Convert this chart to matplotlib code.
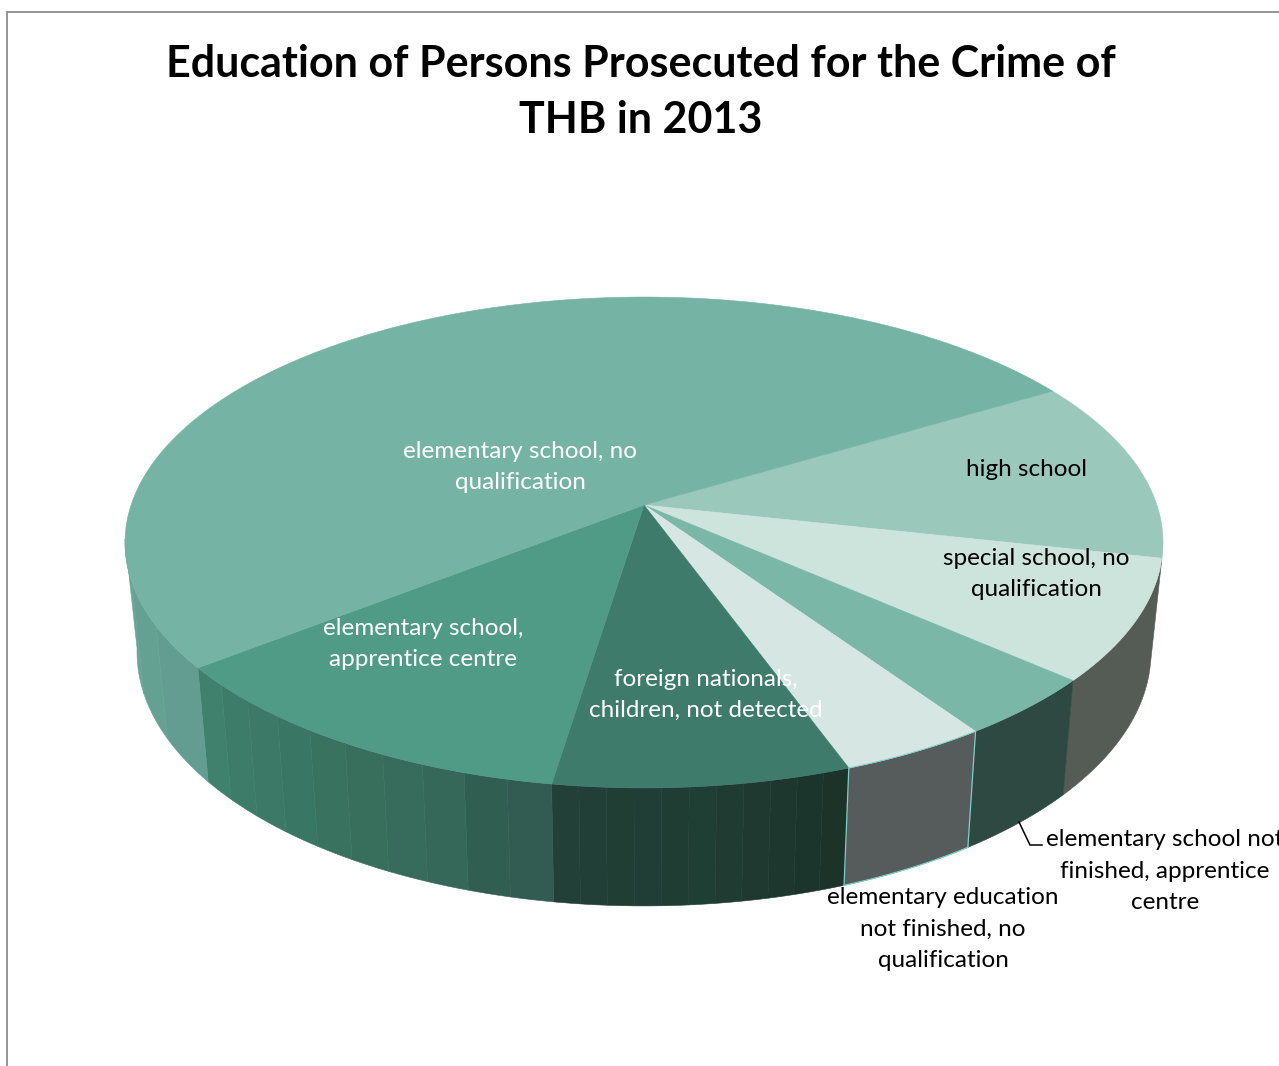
import numpy as np
import matplotlib
matplotlib.use("Agg")
import matplotlib.pyplot as plt

# Data (persons), clockwise from the high school slice
categories = ["high school", "special school, no\nqualification",
              "elementary school not\nfinished, apprentice\ncentre",
              "elementary education\nnot finished, no\nqualification",
              "foreign nationals,\nchildren, not detected",
              "elementary school,\napprentice centre",
              "elementary school, no\nqualification"]
values = [3, 2, 1, 1, 2, 3, 13]
top_colors = ["#9AC9BC", "#CDE4DD", "#7AB7A6", "#D6E7E3", "#3E7B6A", "#509B86", "#75B4A4"]
wall_colors = [
    ["#545C55"],
    ["#545C55"],
    ["#2E4842"],
    ["#565B5B"],
    ["#1B3329", "#1C352C", "#1E372E", "#1F3930", "#1F3B32", "#1F3E34", "#203D34",
     "#203E35", "#213E35", "#223F37", "#224038"],
    ["#325C51", "#305F52", "#356858", "#376B5B", "#386E5C", "#3A7260", "#3A7664",
     "#3C7967", "#3D7C69", "#40816E"],
    ["#639C90", "#65A192", "#67A595"],
]
label_colors = ["black", "black", "black", "black", "white", "white", "white"]
label_pos = [(1026, 470), (1036, 574), (1165, 871), (943, 929), (706, 695), (423, 644), (520, 467)]
title = "Education of Persons Prosecuted for the Crime of\nTHB in 2013"
START_DEG = -30.8

W, H = 1279, 1066
CX, APEX_Y = 644, 505
K, B, A = -0.1527, 162.6, 512.9


def top_rim(t):
    x, y = np.cos(t), np.sin(t)
    d = 1 + K * y
    return CX + A * x / d, (APEX_Y + B * y) / d


def bottom_rim(t):
    sx, sy = top_rim(t)
    return CX + (sx - CX) * 507 / 519, 652 + (sy - 542.5) * 254 / 245.5


fig = plt.figure(figsize=(W / 100, H / 100), dpi=100)
ax = fig.add_axes([0, 0, 1, 1])
ax.set_xlim(0, W)
ax.set_ylim(H, 0)
ax.axis("off")

# chart frame
ax.plot([7, 7, W], [H, 12, 12], color="#8C8C8C", lw=1.3, solid_joinstyle="miter")

edges = np.radians(START_DEG + np.concatenate([[0], np.cumsum(values)]) / sum(values) * 360)

# walls: visible from the high school / special school edge to the left tangent
VIS0, VIS1 = edges[1], np.radians(172)
for i, cols in enumerate(wall_colors):
    a0, a1 = max(edges[i], VIS0), min(edges[i + 1], VIS1)
    if a1 <= a0:
        continue
    parts = np.linspace(a0, a1, len(cols) + 1)
    for j, c in enumerate(cols):
        t = np.linspace(parts[j], parts[j + 1], 30)
        xt, yt = top_rim(t)
        xb, yb = bottom_rim(t[::-1])
        ax.fill(np.r_[xt, xb], np.r_[yt, yb], facecolor=c, edgecolor=c, lw=0.4, zorder=2)

# top face
for i, c in enumerate(top_colors):
    t = np.linspace(edges[i], edges[i + 1], 200)
    xt, yt = top_rim(t)
    ax.fill(np.r_[CX, xt], np.r_[APEX_Y, yt], facecolor=c, edgecolor=c, lw=0.4, zorder=3)

# thin cyan edges of the elementary education wall
t = np.linspace(edges[3], edges[4], 40)
xb, yb = bottom_rim(t)
xt, yt = top_rim(t)
edge = "#7FCFC7"
ax.plot(xb, yb, color=edge, lw=0.9, zorder=4)
ax.plot(xt, yt, color=edge, lw=0.7, zorder=4)
for e in (edges[3], edges[4]):
    xa, ya = top_rim(e)
    xc, yc = bottom_rim(e)
    ax.plot([xa, xc], [ya, yc], color=edge, lw=0.9, zorder=4)

# leader line
ax.plot([1019, 1030, 1042], [822, 845, 845], color="black", lw=1.1, zorder=4)

FONT = "Lato"
for name, pos, col in zip(categories, label_pos, label_colors):
    ax.text(pos[0], pos[1], name, color=col, ha="center", va="center", ma="center",
            fontfamily=FONT, fontsize=17.5, linespacing=1.6, zorder=5)
ax.text(641, 92, title, color="black", ha="center", va="center", ma="center",
        fontfamily=FONT, fontweight="bold", fontsize=31, linespacing=1.46, zorder=5)

fig.savefig("out.png", dpi=100, facecolor="white")
